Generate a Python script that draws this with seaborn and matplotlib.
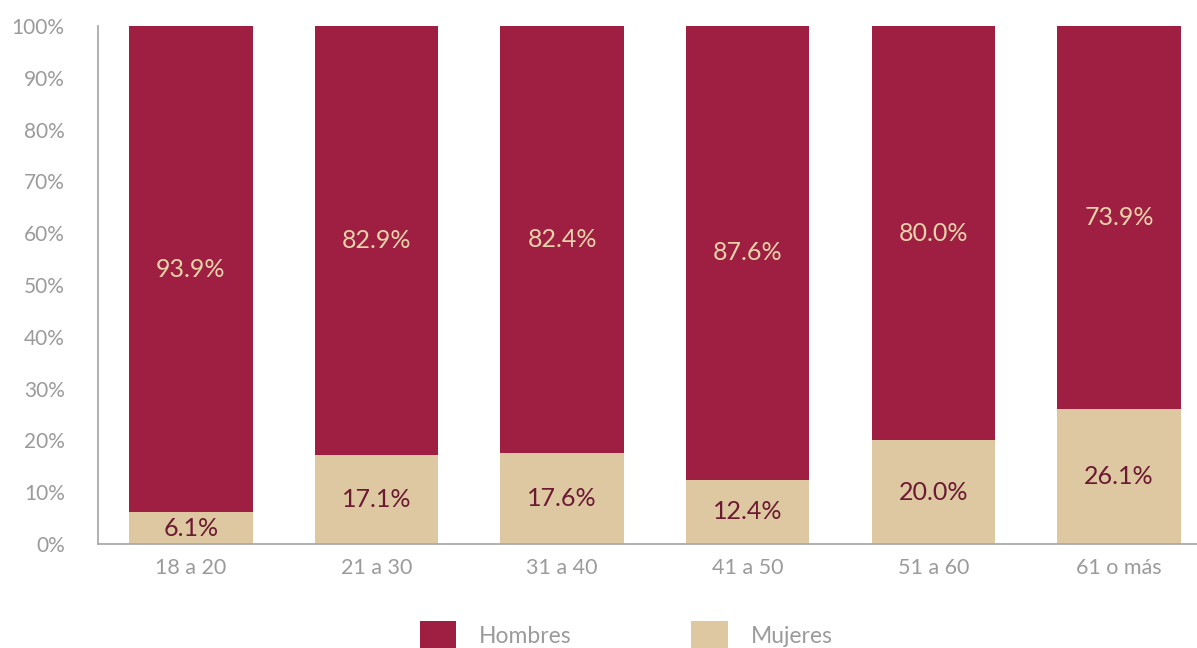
import matplotlib
matplotlib.use("Agg")
import matplotlib.pyplot as plt
import seaborn as sns
import pandas as pd
from matplotlib.patches import Patch

categories = ["18 a 20", "21 a 30", "31 a 40", "41 a 50", "51 a 60", "61 o más"]
hombres = [93.9, 82.9, 82.4, 87.6, 80.0, 73.9]
mujeres = [6.1, 17.1, 17.6, 12.4, 20.0, 26.1]
yticks = [0, 10, 20, 30, 40, 50, 60, 70, 80, 90, 100]

RED = "#9E1F41"
BEIGE = "#DDC8A1"
GRAY = "#9B9B9B"
LBL_ON_RED = "#E8D3AB"
LBL_ON_BEIGE = "#6B1A32"

sns.set_theme(style="white")
plt.rcParams["font.family"] = ["Lato", "DejaVu Sans"]

df = pd.DataFrame({"cat": categories, "h": hombres, "m": mujeres})
df["total"] = df["h"] + df["m"]

fig = plt.figure(figsize=(11.97, 6.48), dpi=100)
ax = fig.add_axes([98/1197, 104/648, 1 - 98/1197, (544-26)/648])

sns.barplot(data=df, x="cat", y="total", color=RED, width=0.665, saturation=1,
            linewidth=0, edgecolor="none", ax=ax)
sns.barplot(data=df, x="cat", y="m", color=BEIGE, width=0.665, saturation=1,
            linewidth=0, edgecolor="none", ax=ax)

for i, (h, m) in enumerate(zip(hombres, mujeres)):
    ax.text(i, m + h / 2, f"{h:.1f}%", ha="center", va="center", fontsize=18, color=LBL_ON_RED)
    ax.text(i, m / 2, f"{m:.1f}%", ha="center", va="center", fontsize=18, color=LBL_ON_BEIGE)

ax.set_xlim(-0.5, 5.42)
ax.set_ylim(0, 100)
ax.set_yticks(yticks)
ax.set_yticklabels([f"{t}%" for t in yticks])
ax.set_xlabel("")
ax.set_ylabel("")
ax.tick_params(axis="y", length=0, pad=24, labelsize=15, labelcolor=GRAY)
ax.tick_params(axis="x", length=0, pad=10, labelsize=15.5, labelcolor=GRAY)
for s in ["top", "right"]:
    ax.spines[s].set_visible(False)
for s in ["left", "bottom"]:
    ax.spines[s].set_color("#AAAAAA")
    ax.spines[s].set_linewidth(1.3)

handles = [Patch(facecolor=RED, edgecolor="none", label="Hombres"),
           Patch(facecolor=BEIGE, edgecolor="none", label="Mujeres")]
leg = fig.legend(handles=handles, loc="lower center", bbox_to_anchor=(0.523, -0.036), ncol=2,
                 frameon=False, fontsize=16.5, handlelength=1.6, handleheight=1.6,
                 handletextpad=1.0, columnspacing=5.2)
for t in leg.get_texts():
    t.set_color(GRAY)

fig.savefig("out.png", dpi=100)
